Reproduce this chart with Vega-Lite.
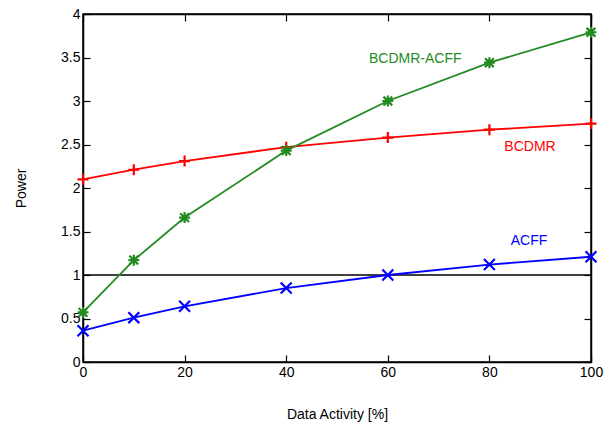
{
  "$schema": "https://vega.github.io/schema/vega-lite/v6.json",
  "width": 508,
  "height": 348,
  "autosize": "none",
  "padding": {"left": 83, "top": 14, "right": 25, "bottom": 68},
  "config": {
    "font": "Liberation Sans",
    "view": {"stroke": "black", "strokeWidth": 1.5},
    "axis": {"grid": false, "labelFlush": false, "labelOverlap": false, "domainColor": "black", "domainWidth": 1.5, "tickColor": "black", "tickWidth": 1.2, "labelColor": "black", "labelFontSize": 14, "labelFont": "Liberation Sans", "titleFont": "Liberation Sans", "titleFontSize": 14, "titleFontWeight": "normal", "titleColor": "black"}
  },
  "datasets": {
    "series": [
      {"activity": 0, "power": 0.36, "series": "ACFF"},
      {"activity": 10, "power": 0.51, "series": "ACFF"},
      {"activity": 20, "power": 0.64, "series": "ACFF"},
      {"activity": 40, "power": 0.85, "series": "ACFF"},
      {"activity": 60, "power": 1.0, "series": "ACFF"},
      {"activity": 80, "power": 1.12, "series": "ACFF"},
      {"activity": 100, "power": 1.21, "series": "ACFF"},
      {"activity": 0, "power": 2.1, "series": "BCDMR"},
      {"activity": 10, "power": 2.21, "series": "BCDMR"},
      {"activity": 20, "power": 2.31, "series": "BCDMR"},
      {"activity": 40, "power": 2.47, "series": "BCDMR"},
      {"activity": 60, "power": 2.58, "series": "BCDMR"},
      {"activity": 80, "power": 2.67, "series": "BCDMR"},
      {"activity": 100, "power": 2.74, "series": "BCDMR"},
      {"activity": 0, "power": 0.57, "series": "BCDMR-ACFF"},
      {"activity": 10, "power": 1.17, "series": "BCDMR-ACFF"},
      {"activity": 20, "power": 1.66, "series": "BCDMR-ACFF"},
      {"activity": 40, "power": 2.43, "series": "BCDMR-ACFF"},
      {"activity": 60, "power": 3.0, "series": "BCDMR-ACFF"},
      {"activity": 80, "power": 3.44, "series": "BCDMR-ACFF"},
      {"activity": 100, "power": 3.79, "series": "BCDMR-ACFF"}
    ],
    "labels": [
      {"activity": 65.4, "power": 3.48, "series": "BCDMR-ACFF"},
      {"activity": 88, "power": 2.47, "series": "BCDMR"},
      {"activity": 87.8, "power": 1.39, "series": "ACFF"}
    ]
  },
  "layer": [
    {
      "data": {"values": [{}]},
      "mark": {"type": "rule", "color": "black", "strokeWidth": 1.3},
      "encoding": {"y": {"datum": 1, "type": "quantitative", "scale": {"domain": [0, 4]}, "axis": null}}
    },
    {
      "data": {"name": "series"},
      "mark": {"type": "line", "strokeWidth": 1.8},
      "encoding": {
        "x": {"field": "activity", "type": "quantitative", "scale": {"domain": [0, 100]}, "title": "Data Activity [%]",
              "axis": {"orient": "bottom", "values": [0, 20, 40, 60, 80, 100], "format": "d", "tickSize": -7, "labelPadding": 10, "titlePadding": 28}},
        "y": {"field": "power", "type": "quantitative", "scale": {"domain": [0, 4]}, "title": "Power",
              "axis": {"orient": "left", "values": [0, 0.5, 1, 1.5, 2, 2.5, 3, 3.5, 4], "format": "~g", "tickSize": -7, "labelPadding": 10, "titlePadding": 32}},
        "color": {"field": "series", "type": "nominal", "scale": {"domain": ["ACFF", "BCDMR", "BCDMR-ACFF"], "range": ["#0000ff", "#ff0000", "#228b22"]}, "legend": null}
      }
    },
    {
      "data": {"name": "series"},
      "mark": {"type": "point", "filled": false, "strokeWidth": 2.2, "opacity": 1, "size": 120},
      "encoding": {
        "x": {"field": "activity", "type": "quantitative", "axis": null},
        "y": {"field": "power", "type": "quantitative", "axis": null},
        "color": {"field": "series", "type": "nominal", "legend": null},
        "shape": {"field": "series", "type": "nominal", "legend": null,
                  "scale": {"domain": ["ACFF", "BCDMR", "BCDMR-ACFF"], "range": ["M-1,-1L1,1M-1,1L1,-1", "M-1,0L1,0M0,-1L0,1", "M-1,0L1,0M0,-1L0,1M-0.8,-0.8L0.8,0.8M-0.8,0.8L0.8,-0.8"]}}
      }
    },
    {
      "data": {"name": "labels"},
      "mark": {"type": "text", "fontSize": 14, "font": "Liberation Sans", "align": "center", "baseline": "middle"},
      "encoding": {
        "x": {"field": "activity", "type": "quantitative", "axis": null},
        "y": {"field": "power", "type": "quantitative", "axis": null},
        "text": {"field": "series"},
        "color": {"field": "series", "type": "nominal", "legend": null}
      }
    },
    {
      "data": {"name": "series"},
      "mark": {"type": "point", "opacity": 0},
      "encoding": {
        "x": {"field": "activity", "type": "quantitative", "axis": {"orient": "top", "values": [0, 20, 40, 60, 80, 100], "labels": false, "title": null, "tickSize": -7}},
        "y": {"field": "power", "type": "quantitative", "axis": {"orient": "right", "values": [0, 0.5, 1, 1.5, 2, 2.5, 3, 3.5, 4], "labels": false, "title": null, "tickSize": -7}}
      }
    }
  ],
  "resolve": {"axis": {"x": "independent", "y": "independent"}}
}
